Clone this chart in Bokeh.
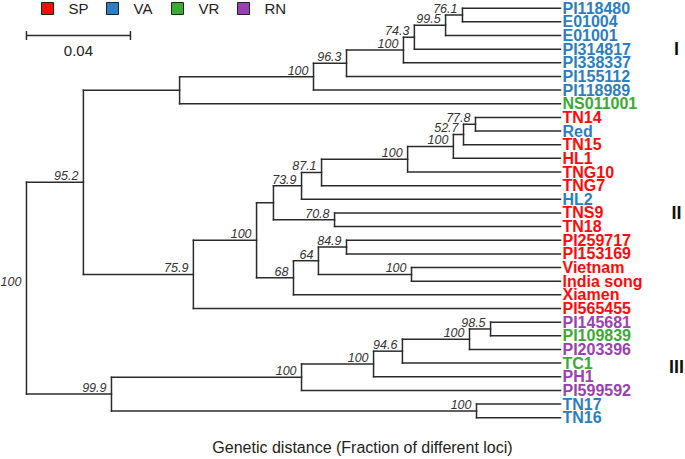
from bokeh.plotting import figure
from bokeh.models import Range1d, ColumnDataSource
from bokeh.core.properties import value
from bokeh.embed import file_html
from bokeh.resources import INLINE

# ---------------- data ----------------
leaves = ["PI118480", "E01004", "E01001", "PI314817", "PI338337", "PI155112", "PI118989",
          "NS011001", "TN14", "Red", "TN15", "HL1", "TNG10", "TNG7", "HL2", "TNS9", "TN18",
          "PI259717", "PI153169", "Vietnam", "India song", "Xiamen", "PI565455",
          "PI145681", "PI109839", "PI203396", "TC1", "PH1", "PI599592", "TN17", "TN16"]
leaf_type = ["VA", "VA", "VA", "VA", "VA", "VA", "VA",
             "VR", "SP", "VA", "SP", "SP", "SP", "SP", "VA", "SP", "SP",
             "SP", "SP", "SP", "SP", "SP", "SP",
             "RN", "VR", "RN", "VR", "RN", "RN", "VA", "VA"]
types = ["SP", "VA", "VR", "RN"]
type_colors = ["#FF0A0A", "#2B7EC1", "#3AAA35", "#9B40B3"]

# internal nodes (bottom-up): left child, right child, height (genetic distance), bootstrap
node_ids = ["n%d" % i for i in range(1, 31)]
node_left = ["PI118480", "n1", "n2", "n3", "n4", "n5", "n6",
             "TN14", "n8", "n9", "n10", "n11", "n12", "TNS9", "n13",
             "PI259717", "Vietnam", "n16", "n18", "n15", "n20", "n7",
             "PI145681", "n23", "n24", "n25", "n26", "TN17", "n27", "n22"]
node_right = ["E01004", "E01001", "PI314817", "PI338337", "PI155112", "PI118989", "NS011001",
              "Red", "TN15", "HL1", "TNG10", "TNG7", "HL2", "TN18", "n14",
              "PI153169", "India song", "n17", "Xiamen", "n19", "PI565455", "n21",
              "PI109839", "PI203396", "TC1", "PH1", "PI599592", "TN16", "n28", "n29"]
node_height = [0.0377, 0.0442, 0.0562, 0.0604, 0.0823, 0.0950, 0.1465,
               0.0327, 0.0373, 0.0412, 0.0588, 0.0919, 0.0996, 0.0869, 0.1104,
               0.0823, 0.0573, 0.0931, 0.1027, 0.1169, 0.1412, 0.1835,
               0.0269, 0.0350, 0.0608, 0.0719, 0.0996, 0.0323, 0.1727, 0.2054]
node_support = ["76.1", "99.5", "74.3", "100", "96.3", "100", "",
                "77.8", "52.7", "100", "100", "87.1", "73.9", "70.8", "",
                "84.9", "100", "64", "68", "100", "75.9", "95.2",
                "98.5", "100", "94.6", "100", "100", "100", "99.9", "100"]

group_names = ["I", "II", "III"]
group_rows = [3.0, 15.0, 26.3]          # leaf row beside which each clade label sits
scale_bar_length = 0.04
scale_bar_label = "0.04"
x_title = "Genetic distance (Fraction of different loci)"

# ---------------- layout ----------------
W, H = 685, 459
PX_PER_UNIT = 2600.0   # pixels per unit of genetic distance
TIP_PX = 560.0         # canvas x of the leaf tips
ROW0_PX = 7.7          # canvas y of the first leaf row
ROW_PX = 13.65         # pixels per leaf row

def hx(px):  # canvas x pixel -> distance coordinate
    return (TIP_PX - px) / PX_PER_UNIT

def ry(py):  # canvas y pixel -> row coordinate
    return (py - ROW0_PX) / ROW_PX

p = figure(width=W, height=H, output_backend="svg", toolbar_location=None,
           x_range=Range1d(hx(0), hx(W)), y_range=Range1d(ry(H), ry(0)),
           x_axis_location=None, y_axis_location=None,
           min_border=0, min_border_left=0, min_border_right=0,
           min_border_top=0, min_border_bottom=0)
p.outline_line_color = None
p.xgrid.visible = False
p.ygrid.visible = False
p.background_fill_color = "white"
p.border_fill_color = "white"

# ---------------- tree geometry ----------------
pos = {}
for i, name in enumerate(leaves):
    pos[name] = (0.0, float(i))
for nid, a, b, h in zip(node_ids, node_left, node_right, node_height):
    pos[nid] = (h, (pos[a][1] + pos[b][1]) / 2.0)

x0, y0, x1, y1 = [], [], [], []
for nid, a, b in zip(node_ids, node_left, node_right):
    hn, yn = pos[nid]
    # vertical connector
    x0.append(hn); y0.append(pos[a][1]); x1.append(hn); y1.append(pos[b][1])
    # horizontal branches to children
    for c in (a, b):
        x0.append(hn); y0.append(pos[c][1]); x1.append(pos[c][0]); y1.append(pos[c][1])

p.segment(x0=x0, y0=y0, x1=x1, y1=y1, line_color="#2b2b2b", line_width=1.5,
          line_cap="square")

# bootstrap values
bx = [pos[n][0] for n, s in zip(node_ids, node_support) if s]
by = [pos[n][1] for n, s in zip(node_ids, node_support) if s]
bt = [s for s in node_support if s]
p.text(x=bx, y=by, text=bt, text_font=value("Liberation Sans"), text_font_style="italic",
       text_font_size="12.5px", text_color="#333333", text_align="right",
       text_baseline="bottom", x_offset=-5, y_offset=-2)

# leaf labels
cmap = dict(zip(types, type_colors))
leaf_src = ColumnDataSource(dict(x=[0.0] * len(leaves), y=list(range(len(leaves))),
                                 t=leaves, c=[cmap[t] for t in leaf_type]))
p.text(x="x", y="y", text="t", text_color="c", source=leaf_src,
       text_font=value("Liberation Sans"), text_font_style="bold", text_font_size="16px",
       text_align="left", text_baseline="middle", x_offset=2)

# clade labels
p.text(x=[hx(676)] * 3, y=group_rows, text=group_names, text_font=value("Liberation Sans"),
       text_font_style="bold", text_font_size="18px", text_color="#111111",
       text_align="center", text_baseline="middle")

# legend
leg_sq_px = [47, 112, 177, 243]
leg_y = ry(8)
p.rect(x=[hx(v) for v in leg_sq_px], y=[leg_y] * 4, width=12, height=12,
       width_units="screen", height_units="screen", fill_color=type_colors,
       line_color="#222222", line_width=1)
p.text(x=[hx(v + 21) for v in leg_sq_px], y=[leg_y] * 4, text=types,
       text_font=value("Liberation Sans"), text_font_size="15px", text_color="#222222",
       text_align="left", text_baseline="middle")

# scale bar (starts at the root's position)
root_h = node_height[-1]
sb_y = ry(35)
p.segment(x0=[root_h], y0=[sb_y], x1=[root_h - scale_bar_length], y1=[sb_y],
          line_color="#2b2b2b", line_width=1.5)
tick = 4.5 / ROW_PX
p.segment(x0=[root_h, root_h - scale_bar_length], y0=[sb_y - tick, sb_y - tick],
          x1=[root_h, root_h - scale_bar_length], y1=[sb_y + tick, sb_y + tick],
          line_color="#2b2b2b", line_width=1.5)
p.text(x=[root_h - scale_bar_length / 2], y=[ry(50)], text=[scale_bar_label],
       text_font=value("Liberation Sans"), text_font_size="15px", text_color="#222222",
       text_align="center", text_baseline="middle")

# x title
p.text(x=[hx(362)], y=[ry(447)], text=[x_title], text_font=value("Liberation Sans"),
       text_font_size="16px", text_color="#222222", text_align="center",
       text_baseline="middle")

open("out.html", "w").write(file_html(p, INLINE))
